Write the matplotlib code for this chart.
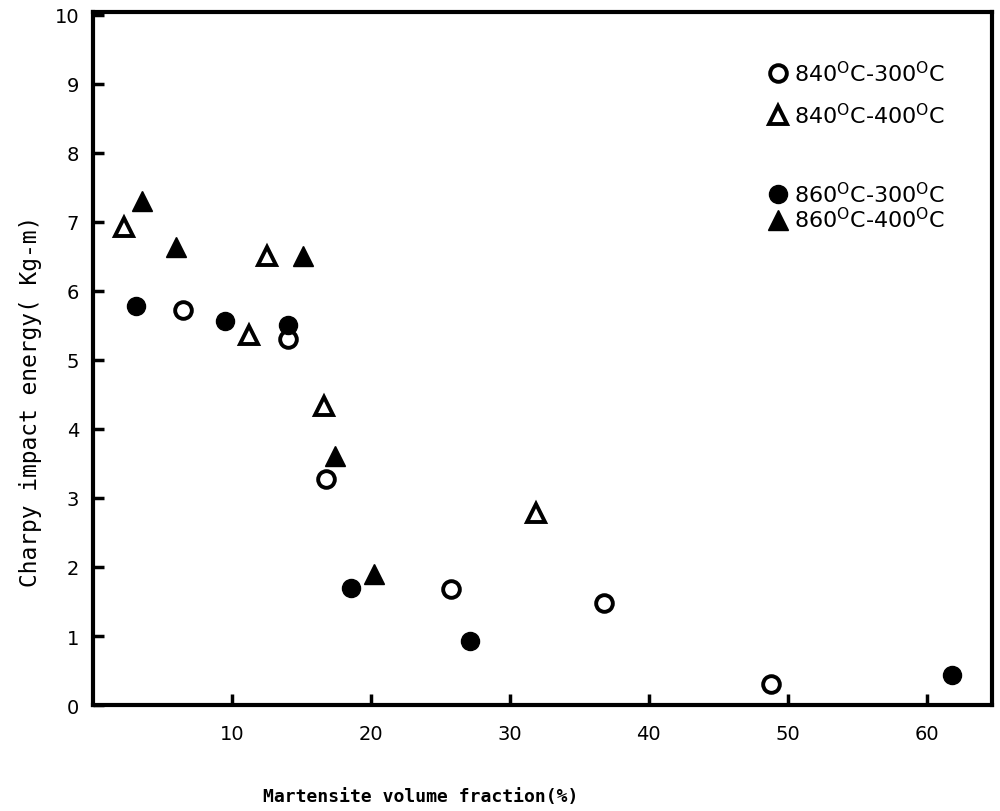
import matplotlib
matplotlib.use("Agg")
import matplotlib.pyplot as plt
from matplotlib.lines import Line2D

# Data: martensite volume fraction (%) vs Charpy impact energy (Kg-m)
x_840_300 = [6.5, 14.0, 16.8, 25.8, 36.8, 48.8]
y_840_300 = [5.72, 5.30, 3.27, 1.68, 1.48, 0.30]

x_840_400 = [2.2, 11.2, 12.5, 16.6, 31.9]
y_840_400 = [6.93, 5.36, 6.51, 4.33, 2.78]

x_860_300 = [3.1, 9.5, 14.0, 18.6, 27.1, 61.8]
y_860_300 = [5.78, 5.56, 5.50, 1.70, 0.93, 0.43]

x_860_400 = [3.5, 6.0, 15.1, 17.4, 20.2]
y_860_400 = [7.30, 6.64, 6.51, 3.61, 1.90]

labels = [r"840$^{\mathrm{O}}$C-300$^{\mathrm{O}}$C",
          r"840$^{\mathrm{O}}$C-400$^{\mathrm{O}}$C",
          r"860$^{\mathrm{O}}$C-300$^{\mathrm{O}}$C",
          r"860$^{\mathrm{O}}$C-400$^{\mathrm{O}}$C"]

xticks = [10, 20, 30, 40, 50, 60]
yticks = [0, 1, 2, 3, 4, 5, 6, 7, 8, 9, 10]

fig = plt.figure(figsize=(10, 8.12), dpi=100)
ax = fig.add_axes([0.093, 0.1305, 0.899, 0.8535])

ms_c = 12
ms_t = 13
ax.plot(x_840_300, y_840_300, 'o', ls='none', ms=ms_c, mfc='white', mec='black', mew=2.8)
ax.plot(x_840_400, y_840_400, '^', ls='none', ms=ms_t, mfc='white', mec='black', mew=2.8)
ax.plot(x_860_300, y_860_300, 'o', ls='none', ms=ms_c + 1, mfc='black', mec='black')
ax.plot(x_860_400, y_860_400, '^', ls='none', ms=ms_t + 1, mfc='black', mec='black')

ax.set_xlim(0, 64.7)
ax.set_ylim(0, 10.04)
ax.set_xticks(xticks)
ax.set_yticks(yticks)
ax.tick_params(direction='in', length=8, width=2.5, labelsize=14, pad=10)
ax.tick_params(axis='x', pad=14)
for s in ax.spines.values():
    s.set_linewidth(3)

ax.set_xlabel("Martensite volume fraction(%)", fontsize=13, family="DejaVu Sans Mono",
              fontweight='bold', va='center')
ax.xaxis.set_label_coords(0.364, -0.131)
ax.set_ylabel("Charpy impact energy( Kg-m)", fontsize=16.5, family="DejaVu Sans Mono",
              va='center')
ax.yaxis.set_label_coords(-0.07, 0.44)

h1 = [Line2D([], [], marker='o', ls='none', ms=ms_c, mfc='white', mec='black', mew=2.8),
      Line2D([], [], marker='^', ls='none', ms=ms_t, mfc='white', mec='black', mew=2.8)]
h2 = [Line2D([], [], marker='o', ls='none', ms=ms_c + 1, mfc='black', mec='black'),
      Line2D([], [], marker='^', ls='none', ms=ms_t + 1, mfc='black', mec='black')]
leg1 = ax.legend(h1, labels[:2], loc='upper left', bbox_to_anchor=(0.73, 0.96),
                 frameon=False, fontsize=16, handlelength=0.8, handletextpad=0.3,
                 labelspacing=0.75)
ax.add_artist(leg1)
ax.legend(h2, labels[2:], loc='upper left', bbox_to_anchor=(0.73, 0.785),
          frameon=False, fontsize=16, handlelength=0.8, handletextpad=0.3,
          labelspacing=0.0)

fig.savefig("out.png", dpi=100)
